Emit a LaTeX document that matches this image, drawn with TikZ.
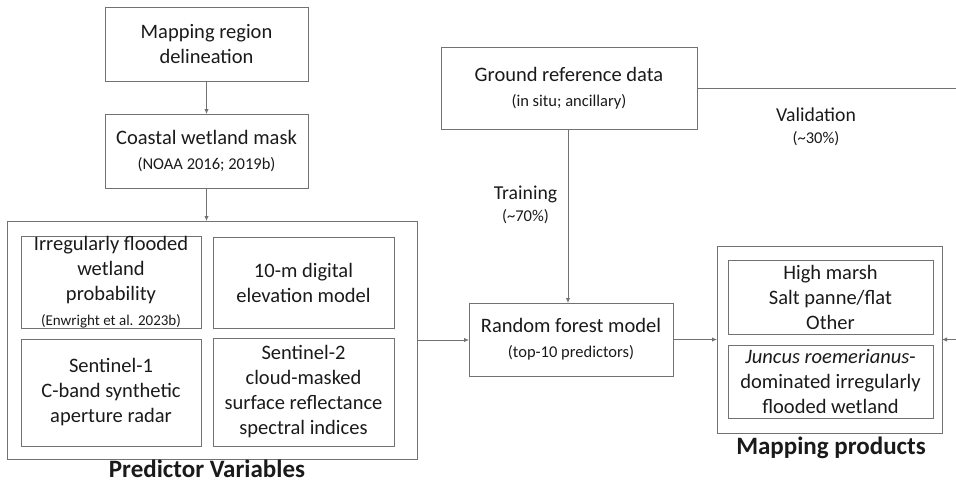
\documentclass[tikz,border=0pt]{standalone}
\usepackage{fontspec}
\setmainfont{Carlito}
\usetikzlibrary{arrows.meta}
\definecolor{linegray}{HTML}{727272}
\definecolor{txt}{HTML}{1A1A1A}
\begin{document}
\begin{tikzpicture}[x=1pt,y=-1pt,
  box/.style={draw=linegray, line width=0.9pt, inner sep=0pt, outer sep=0pt, align=center, text=txt,
              font=\fontsize{20.5}{25}\selectfont},
  conn/.style={draw=linegray, line width=0.9pt, -{Latex[length=5pt,width=4.5pt]}},
  lab/.style={inner sep=0pt, align=center, text=txt, font=\fontsize{19.7}{22}\selectfont},
  title/.style={inner sep=0pt, text=txt, font=\fontsize{25}{30}\selectfont\bfseries, anchor=base}
]
\useasboundingbox (0,0) rectangle (956,483);
\newcommand{\smalltxt}[1]{{\fontsize{16.5}{24}\selectfont #1}}

% left column
\node[box, minimum width=203pt, minimum height=74pt] (map) at (206.5,44) {Mapping region\\delineation};
\node[box, minimum width=203pt, minimum height=74pt] (mask) at (206.5,151) {Coastal wetland mask\\\smalltxt{(NOAA 2016; 2019b)}};

% predictor variables
\node[box, minimum width=410pt, minimum height=238pt] (pred) at (212,340) {};
\node[box, minimum width=180pt, minimum height=91pt] (p1) at (111,282.5) {Irregularly flooded\\wetland\\probability\\{\fontsize{15}{20}\selectfont (Enwright et al. 2023b)}};
\node[box, minimum width=181pt, minimum height=91pt] (p2) at (303.5,282.5) {10-m digital\\elevation model};
\node[box, minimum width=180pt, minimum height=107pt] (p3) at (111,392.5) {Sentinel-1\\C-band synthetic\\aperture radar};
\node[box, minimum width=181pt, minimum height=108pt] (p4) at (303.5,392) {Sentinel-2\\cloud-masked\\surface reflectance\\spectral indices};
\node[title] (predlab) at (207,477) {Predictor Variables};

% ground reference and model
\node[box, minimum width=256pt, minimum height=82pt] (ground) at (569,88) {Ground reference data\\\smalltxt{(in situ; ancillary)}};
\node[box, minimum width=204pt, minimum height=73pt] (rf) at (571,339.5) {Random forest model\\\smalltxt{(top-10 predictors)}};

% mapping products
\node[box, minimum width=225pt, minimum height=187pt] (mp) at (829.5,339.5) {};
\node[box, minimum width=205pt, minimum height=74pt] (m1) at (830.5,297) {High marsh\\Salt panne/flat\\Other};
\node[box, minimum width=205pt, minimum height=73pt] (m2) at (830.5,381.5) {\textit{Juncus roemerianus}-\\dominated irregularly\\flooded wetland};
\node[title] (mplab) at (831,454) {Mapping products};

% labels
\node[lab] (train) at (525.5,205) {Training\\\smalltxt{(\textasciitilde70\%)}};
\node[lab] (valid) at (816,127) {Validation\\\smalltxt{(\textasciitilde30\%)}};

% connectors
\coordinate (vr1) at (958,88);
\coordinate (vr2) at (958,339.5);
\draw[conn] (map.south) -- (mask.north);
\draw[conn] (mask.south) -- (mask.south |- pred.north);
\draw[conn] (pred.east) -- (rf.west |- pred.east);
\draw[conn] ([xshift=-1pt]ground.south) -- ([xshift=-1pt]ground.south |- rf.north);
\draw[conn] (rf.east) -- (mp.west |- rf.east);
\draw[conn] (ground.east |- vr1) -- (vr1) -- (vr2) -- (mp.east);
\end{tikzpicture}
\end{document}
